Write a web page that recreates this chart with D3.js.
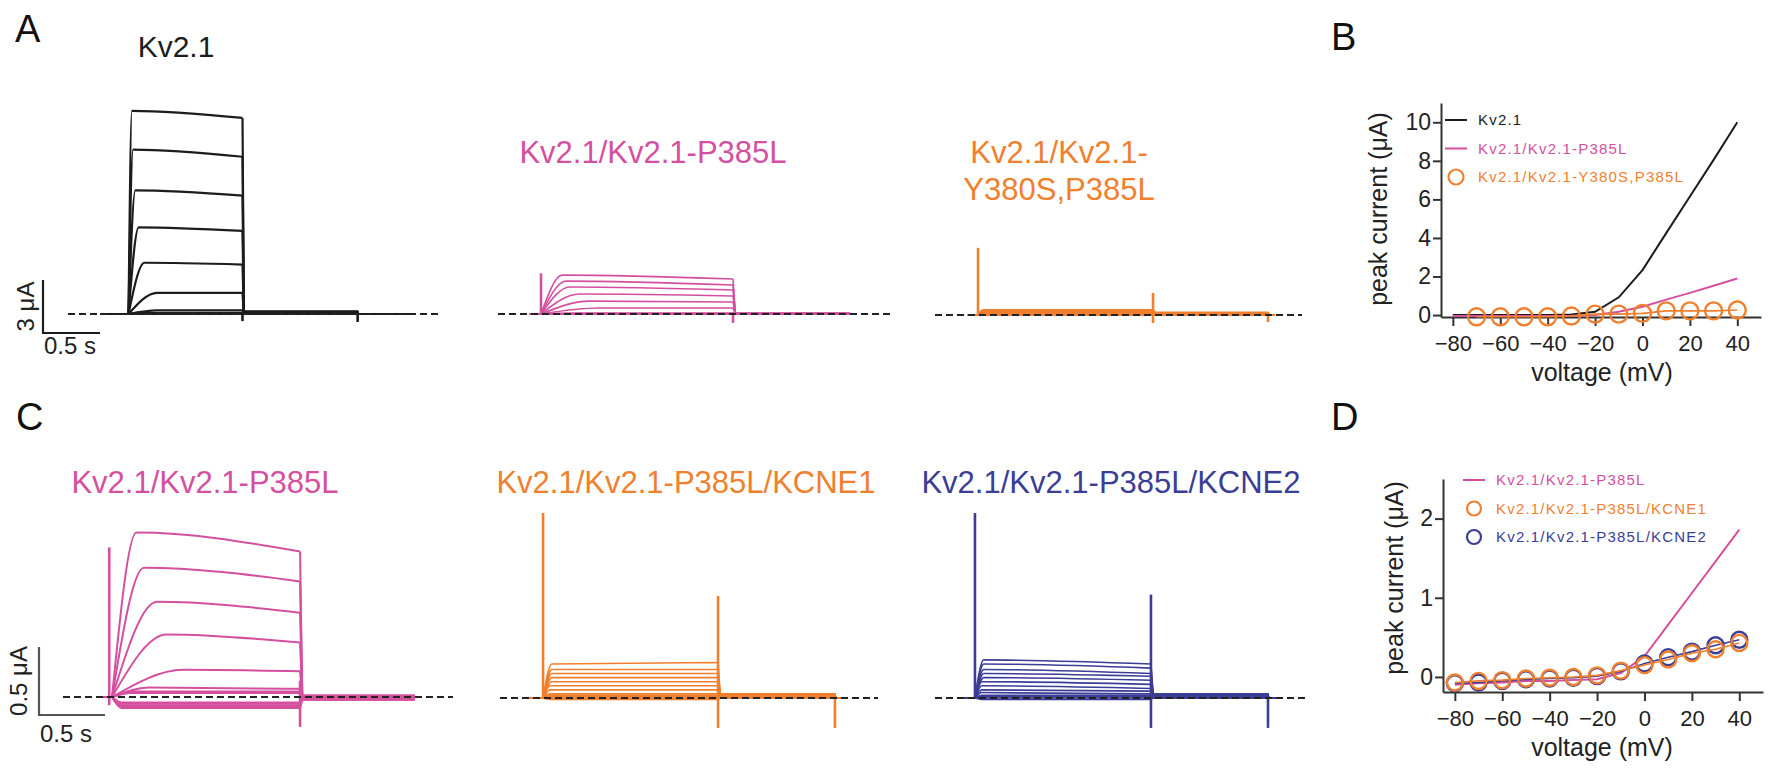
<!DOCTYPE html>
<html>
<head>
<meta charset="utf-8">
<script src="https://cdn.jsdelivr.net/npm/d3@7"></script>
<style>
  body { margin: 0; background: #fff; }
  svg text { font-family: Arial, "Liberation Sans", Helvetica, sans-serif; }
</style>
</head>
<body>
<svg id="fig" width="1773" height="778"></svg>
<script>
//********************************* DATA *********************************
// step potentials (mV), one sweep per step
var voltages = [-80, -70, -60, -50, -40, -30, -20, -10, 0, 10, 20, 30, 40];
var voltagesY380S = [-70, -60, -50, -40, -30, -20, -10, 0, 10, 20, 30, 40];

// panel B - peak current (uA)
var bKv21  = [0, 0, 0, 0, 0, 0.03, 0.17, 0.92, 2.33, 4.25, 6.15, 8.05, 10.0];
var bP385L = [-0.05, -0.05, -0.05, -0.05, -0.05, -0.04, 0, 0.17, 0.43, 0.8, 1.15, 1.52, 1.9];
var bY380S = [-0.09, -0.09, -0.09, -0.09, -0.05, 0.05, 0.05, 0.09, 0.22, 0.22, 0.22, 0.26];

// panel D - peak current (uA)
var dP385L = [-0.1, -0.08, -0.07, -0.05, -0.05, -0.04, -0.03, 0.05, 0.26, 0.66, 1.06, 1.46, 1.86];
var dKCNE1 = [-0.07, -0.05, -0.04, -0.02, -0.01, 0, 0.02, 0.08, 0.15, 0.22, 0.3, 0.35, 0.43];
var dKCNE2 = [-0.08, -0.07, -0.05, -0.03, -0.02, -0.01, 0.01, 0.07, 0.17, 0.25, 0.32, 0.4, 0.47];

// current traces: protocol times (s) = [start, pulse on, pulse off, tail end, end]
var a1Protocol = [0, 0.25, 1.25, 2.26, 2.76];
var a1Peak = [0, 0, 0, 0, 0.02, 0.05, 0.2, 1.2, 2.9, 4.9, 7.0, 9.3, 11.5];
var a1End  = [0, 0, 0, 0, 0.02, 0.05, 0.2, 1.2, 2.8, 4.7, 6.7, 8.9, 11.1];
var a1Rise = [0.05, 0.05, 0.05, 0.05, 0.1, 0.15, 0.25, 0.25, 0.14, 0.09, 0.06, 0.04, 0.03];
var a1Tail = [0, 0, 0, 0, 0, 0, 0, 0, 0.05, 0.08, 0.1, 0.12, 0.15];
var a1Spikes = [[1.25, -0.4, 0], [2.26, -0.45, 0]];

var a2Protocol = [0, 0.06, 1.06, 1.67, 1.67];
var a2Peak = [0, 0, 0, 0, 0, 0.02, 0.05, 0.34, 0.73, 1.13, 1.53, 1.86, 2.2];
var a2End  = [0, 0, 0, 0, 0, 0.02, 0.05, 0.34, 0.68, 1.02, 1.36, 1.64, 1.98];
var a2Rise = [0.05, 0.05, 0.05, 0.05, 0.05, 0.1, 0.2, 0.3, 0.25, 0.2, 0.15, 0.13, 0.11];
var a2Tail = [0, 0, 0, 0, 0, 0, 0, 0, 0, 0.02, 0.03, 0.04, 0.05];
var a2Spikes = [[0.06, 0, 2.3], [1.06, -0.5, 0.1]];

var a3Protocol = [0, 0.063, 1.063, 1.72, 1.76];
var a3Peak = [0, 0, 0.02, 0.03, 0.05, 0.07, 0.1, 0.12, 0.15, 0.18, 0.2, 0.24, 0.28];
var a3End  = [0, 0, 0.02, 0.03, 0.05, 0.07, 0.1, 0.12, 0.15, 0.18, 0.2, 0.24, 0.28];
var a3Rise = [0.03, 0.03, 0.03, 0.03, 0.03, 0.03, 0.03, 0.03, 0.03, 0.03, 0.03, 0.03, 0.03];
var a3Tail = [0, 0, 0, 0.02, 0.03, 0.05, 0.06, 0.08, 0.1, 0.1, 0.12, 0.12, 0.14];
var a3Spikes = [[0.063, 0, 3.8], [1.063, -0.45, 1.25], [1.72, -0.4, 0]];

var c1Protocol = [0, 0.08, 1.08, 1.69, 1.69];
var c1Peak = [-0.08, -0.07, -0.06, -0.05, -0.04, 0.03, 0.04, 0.07, 0.2, 0.46, 0.7, 0.95, 1.21];
var c1End  = [-0.08, -0.07, -0.06, -0.05, -0.04, 0.03, 0.04, 0.06, 0.19, 0.4, 0.62, 0.85, 1.07];
var c1Rise = [0.05, 0.05, 0.05, 0.05, 0.05, 0.1, 0.1, 0.2, 0.38, 0.29, 0.24, 0.17, 0.13];
var c1Tail = [-0.02, -0.02, -0.01, -0.01, 0, 0, 0, 0, 0, 0.01, 0.01, 0.01, 0.01];
var c1Spikes = [[0.065, -0.06, 1.1], [1.08, -0.22, 0.12]];

var c2Protocol = [0, 0.086, 1.086, 1.754, 1.82];
var c2Peak = [-0.01, 0, 0, 0.01, 0.02, 0.03, 0.06, 0.09, 0.12, 0.15, 0.18, 0.21, 0.25];
var c2End  = [-0.01, 0, 0, 0.01, 0.02, 0.03, 0.06, 0.09, 0.12, 0.15, 0.18, 0.21, 0.26];
var c2Rise = [0.04, 0.04, 0.04, 0.04, 0.04, 0.04, 0.04, 0.04, 0.05, 0.05, 0.05, 0.05, 0.05];
var c2Tail = [0, 0, 0, 0, 0.01, 0.01, 0.02, 0.02, 0.02, 0.03, 0.03, 0.03, 0.03];
var c2Spikes = [[0.086, 0, 1.36], [1.086, -0.22, 0.75], [1.754, -0.22, 0]];

var c3Protocol = [0, 0.085, 1.085, 1.75, 1.82];
var c3Peak = [-0.01, 0, 0.01, 0.02, 0.04, 0.06, 0.09, 0.12, 0.15, 0.18, 0.21, 0.25, 0.28];
var c3End  = [-0.01, 0, 0.01, 0.02, 0.03, 0.05, 0.07, 0.1, 0.13, 0.16, 0.18, 0.22, 0.25];
var c3Rise = [0.04, 0.04, 0.04, 0.04, 0.04, 0.04, 0.04, 0.04, 0.05, 0.05, 0.05, 0.05, 0.05];
var c3Tail = [0, 0, 0, 0, 0.01, 0.01, 0.02, 0.02, 0.02, 0.02, 0.03, 0.03, 0.03];
var c3Spikes = [[0.085, 0, 1.36], [1.085, -0.22, 0.76], [1.75, -0.22, 0]];

var legendB = ["Kv2.1", "Kv2.1/Kv2.1-P385L", "Kv2.1/Kv2.1-Y380S,P385L"];
var legendD = ["Kv2.1/Kv2.1-P385L", "Kv2.1/Kv2.1-P385L/KCNE1", "Kv2.1/Kv2.1-P385L/KCNE2"];
var ivTicksX = [-80, -60, -40, -20, 0, 20, 40];

//********************************* STYLE *********************************
var BLACK = "#1c1c1c", PINK = "#d4509f", ORANGE = "#f07f2e", BLUE = "#3b3d96";
var svg = d3.select("#fig");

//********************************* TRACE PANELS *********************************
function tracePanel(cfg){
	var p = cfg.protocol;
	var on = p[1], off = p[2], tailEnd = p[3], end = p[4];
	var x = d3.scaleLinear().domain([0, end]).range([cfg.x0, cfg.x0 + end * cfg.pxPerSec]);
	var y = d3.scaleLinear().domain([0, 1]).range([cfg.base, cfg.base - cfg.pxPerUA]);
	var straight = d3.line().x(function(d){ return x(d[0]); }).y(function(d){ return y(d[1]); });
	var smooth = d3.line().x(function(d){ return x(d[0]); }).y(function(d){ return y(d[1]); }).curve(d3.curveMonotoneX);

	var g = svg.append("g");

	cfg.peak.forEach(function(pk, i){
		var pre = [[0, 0], [on, 0]];
		var pulse = [[on, 0], [on + cfg.rise[i], pk], [off, cfg.end[i]]];
		var post;
		if(tailEnd < end){
			post = [[off, cfg.end[i]], [off + 0.012, cfg.tail[i]], [tailEnd, cfg.tail[i]], [tailEnd + 0.004, 0], [end, 0]];
		} else {
			post = [[off, cfg.end[i]], [off + 0.012, cfg.tail[i]], [end, cfg.tail[i]]];
		}
		g.append("path")
			.attr("d", straight(pre) + smooth(pulse) + straight(post))
			.attr("fill", "none")
			.attr("stroke", cfg.color)
			.attr("stroke-width", cfg.width)
			.attr("stroke-linejoin", "round");
	});

	//capacitive transients
	g.selectAll("line.spike")
		.data(cfg.spikes)
		.enter()
			.append("line")
			.attr("class", "spike")
			.attr("x1", function(d){ return x(d[0]); })
			.attr("x2", function(d){ return x(d[0]); })
			.attr("y1", function(d){ return y(d[1]); })
			.attr("y2", function(d){ return y(d[2]); })
			.attr("stroke", cfg.color)
			.attr("stroke-width", 2.6);

	//zero current line
	g.append("line")
		.attr("x1", cfg.dash[0]).attr("x2", cfg.dash[1])
		.attr("y1", y(0)).attr("y2", y(0))
		.attr("stroke", "#222")
		.attr("stroke-width", 2)
		.attr("stroke-dasharray", "7,4");

	//title
	var t = svg.append("text")
		.attr("x", cfg.titleX)
		.attr("y", cfg.titleY)
		.attr("text-anchor", "middle")
		.attr("font-size", cfg.titleSize || 31)
		.attr("fill", cfg.titleColor);
	[].concat(cfg.title).forEach(function(line, k){
		t.append("tspan").attr("x", cfg.titleX).attr("dy", k == 0 ? 0 : 37).text(line);
	});
}

tracePanel({protocol: a1Protocol, peak: a1Peak, end: a1End, rise: a1Rise, tail: a1Tail, spikes: a1Spikes,
	x0: 100, pxPerSec: 114, base: 314, pxPerUA: 53 / 3, dash: [68, 442], color: BLACK, width: 2.2,
	title: "Kv2.1", titleX: 176, titleY: 57, titleSize: 30, titleColor: BLACK});
tracePanel({protocol: a2Protocol, peak: a2Peak, end: a2End, rise: a2Rise, tail: a2Tail, spikes: a2Spikes,
	x0: 529.5, pxPerSec: 192, base: 314, pxPerUA: 53 / 3, dash: [498, 890], color: PINK, width: 1.6,
	title: "Kv2.1/Kv2.1-P385L", titleX: 653, titleY: 163, titleColor: PINK});
tracePanel({protocol: a3Protocol, peak: a3Peak, end: a3End, rise: a3Rise, tail: a3Tail, spikes: a3Spikes,
	x0: 967, pxPerSec: 175, base: 315, pxPerUA: 53 / 3, dash: [935, 1302], color: ORANGE, width: 2,
	title: ["Kv2.1/Kv2.1-", "Y380S,P385L"], titleX: 1059, titleY: 163, titleColor: ORANGE});
tracePanel({protocol: c1Protocol, peak: c1Peak, end: c1End, rise: c1Rise, tail: c1Tail, spikes: c1Spikes,
	x0: 97, pxPerSec: 188, base: 697, pxPerUA: 136, dash: [63, 453], color: PINK, width: 2,
	title: "Kv2.1/Kv2.1-P385L", titleX: 205, titleY: 493, titleColor: PINK});
tracePanel({protocol: c2Protocol, peak: c2Peak, end: c2End, rise: c2Rise, tail: c2Tail, spikes: c2Spikes,
	x0: 528, pxPerSec: 175, base: 698, pxPerUA: 136, dash: [500, 878], color: ORANGE, width: 1.6,
	title: "Kv2.1/Kv2.1-P385L/KCNE1", titleX: 686, titleY: 493, titleColor: ORANGE});
tracePanel({protocol: c3Protocol, peak: c3Peak, end: c3End, rise: c3Rise, tail: c3Tail, spikes: c3Spikes,
	x0: 960, pxPerSec: 176, base: 698, pxPerUA: 136, dash: [935, 1308], color: BLUE, width: 1.6,
	title: "Kv2.1/Kv2.1-P385L/KCNE2", titleX: 1111, titleY: 493, titleColor: BLUE});

//********************************* SCALE BARS *********************************
function scaleBar(x0, yTop, yBot, xRight, color, yLabel, yLabelX, tLabelY){
	svg.append("path")
		.attr("d", "M" + x0 + "," + yTop + "V" + yBot + "H" + xRight)
		.attr("fill", "none").attr("stroke", color).attr("stroke-width", 2.2);
	svg.append("text")
		.attr("transform", "translate(" + yLabelX + "," + ((yTop + yBot) / 2) + ") rotate(-90)")
		.attr("text-anchor", "middle").attr("font-size", 24).attr("fill", "#222")
		.text(yLabel);
	svg.append("text")
		.attr("x", x0 + 1).attr("y", tLabelY)
		.attr("font-size", 24).attr("fill", "#222")
		.text("0.5 s");
}
scaleBar(43, 280, 333, 100, BLACK, "3 \u03bcA", 34, 354);
scaleBar(39, 647, 715, 105, "#555", "0.5 \u03bcA", 27, 742);

//********************************* PANEL LETTERS *********************************
[["A", 15, 42], ["C", 16, 430], ["B", 1331, 50], ["D", 1331, 430]].forEach(function(d){
	svg.append("text").attr("x", d[1]).attr("y", d[2]).attr("font-size", 38).attr("fill", "#111").text(d[0]);
});

//********************************* I-V PANELS *********************************
function ivPanel(cfg){
	var x = d3.scaleLinear().domain([-85, 50]).range([cfg.left, cfg.right]);
	var y = d3.scaleLinear().domain(cfg.yDomain).range([cfg.bottom, cfg.top]);
	var g = svg.append("g");

	var xAxis = g.append("g")
		.attr("transform", "translate(0," + cfg.bottom + ")")
		.call(d3.axisBottom(x).tickValues(ivTicksX).tickFormat(d3.format("d"))
			.tickSize(9).tickSizeOuter(0).tickPadding(9));
	var yAxis = g.append("g")
		.attr("transform", "translate(" + cfg.left + ",0)")
		.call(d3.axisLeft(y).tickValues(cfg.yTicks).tickFormat(d3.format("d"))
			.tickSize(8).tickSizeOuter(0).tickPadding(2));
	[xAxis, yAxis].forEach(function(a){
		a.selectAll("path, line").attr("stroke", "#333").attr("stroke-width", 2);
		a.selectAll("text").attr("fill", "#222").attr("font-family", null);
	});
	xAxis.selectAll("text").attr("font-size", 22);
	yAxis.selectAll("text").attr("font-size", 23);

	g.append("text")
		.attr("x", 1602).attr("y", cfg.bottom + 64)
		.attr("text-anchor", "middle").attr("font-size", 25).attr("fill", "#222")
		.text("voltage (mV)");
	g.append("text")
		.attr("transform", "translate(" + cfg.yLabelX + "," + ((cfg.top + y(0)) / 2) + ") rotate(-90)")
		.attr("text-anchor", "middle").attr("font-size", 25).attr("fill", "#222")
		.text("peak current (\u03bcA)");

	var line = d3.line().x(function(d){ return x(d[0]); }).y(function(d){ return y(d[1]); });

	//draw in plotting order
	cfg.drawOrder.forEach(function(k){
		var s = cfg.series[k];
		var pts = d3.zip(s.v, s.i);
		g.append("path")
			.attr("d", line(pts))
			.attr("fill", "none")
			.attr("stroke", s.color)
			.attr("stroke-width", s.circles ? 1.6 : 2);
		if(s.circles){
			g.selectAll(null)
				.data(pts)
				.enter()
					.append("circle")
					.attr("cx", function(d){ return x(d[0]); })
					.attr("cy", function(d){ return y(d[1]); })
					.attr("r", cfg.r)
					.attr("fill", "none")
					.attr("stroke", s.color)
					.attr("stroke-width", 2.4);
		}
	});

	//legend
	cfg.series.forEach(function(s, k){
		var ly = cfg.legendY + k * cfg.legendStep;
		if(s.circles){
			g.append("circle").attr("cx", cfg.legendX + 11).attr("cy", ly).attr("r", cfg.r - 1)
				.attr("fill", "none").attr("stroke", s.color).attr("stroke-width", 2.2);
		} else {
			g.append("line").attr("x1", cfg.legendX).attr("x2", cfg.legendX + 22)
				.attr("y1", ly).attr("y2", ly).attr("stroke", s.color).attr("stroke-width", 2);
		}
		g.append("text")
			.attr("x", cfg.legendX + 33).attr("y", ly + 5)
			.attr("font-size", 15).attr("letter-spacing", 1.2)
			.attr("fill", s.color == BLACK ? "#222" : s.color)
			.text(s.label);
	});
}

ivPanel({left: 1441, right: 1761, top: 103, bottom: 317, yDomain: [-0.1, 11], yTicks: [0, 2, 4, 6, 8, 10],
	yLabelX: 1387, r: 8.5, legendX: 1445, legendY: 120, legendStep: 28.5, drawOrder: [0, 1, 2],
	series: [
		{label: legendB[0], v: voltages, i: bKv21, color: BLACK},
		{label: legendB[1], v: voltages, i: bP385L, color: PINK},
		{label: legendB[2], v: voltagesY380S, i: bY380S, color: ORANGE, circles: true}
	]});

ivPanel({left: 1443, right: 1763, top: 479, bottom: 692, yDomain: [-0.19, 2.5], yTicks: [0, 1, 2],
	yLabelX: 1403, r: 8, legendX: 1463, legendY: 480, legendStep: 28.5, drawOrder: [0, 2, 1],
	series: [
		{label: legendD[0], v: voltages, i: dP385L, color: PINK},
		{label: legendD[1], v: voltages, i: dKCNE1, color: ORANGE, circles: true},
		{label: legendD[2], v: voltages, i: dKCNE2, color: BLUE, circles: true}
	]});
</script>
</body>
</html>
